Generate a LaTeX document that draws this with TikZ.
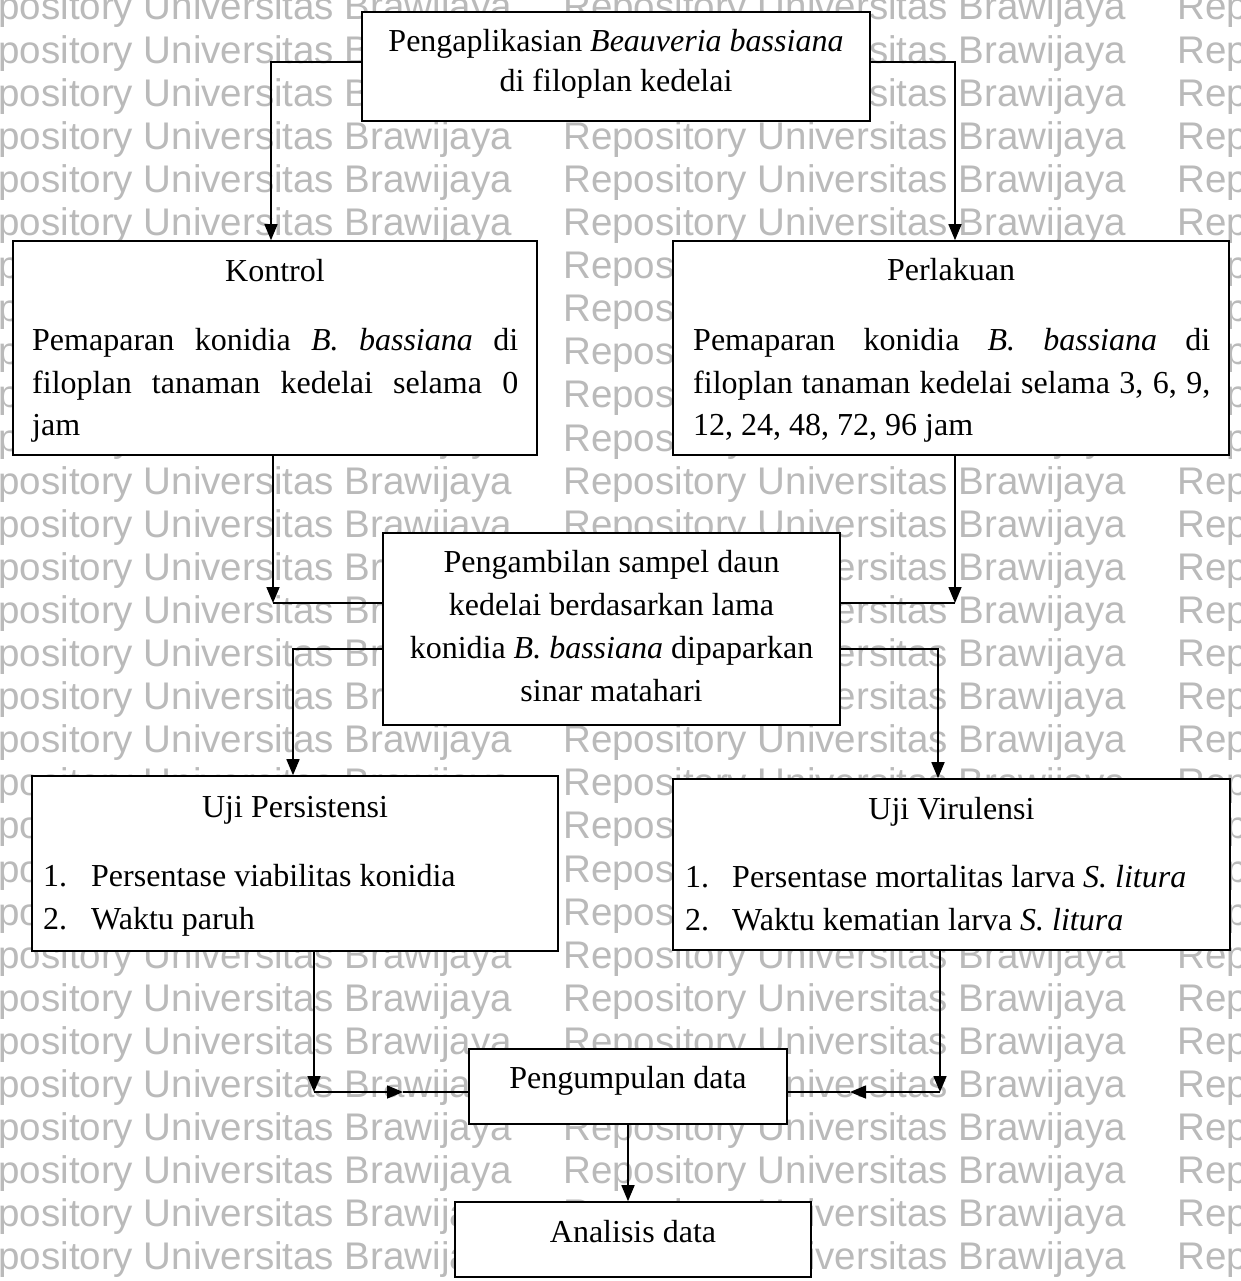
\documentclass[tikz,border=0pt]{standalone}
\usepackage{fontspec}
\setmainfont{Liberation Serif}
\newfontfamily\wmfont{Liberation Sans}
\usetikzlibrary{arrows.meta}
\begin{document}
\begin{tikzpicture}[x=1pt,y=-1pt,
  box/.style={draw, line width=1.6pt, fill=white, inner sep=0pt},
  txt/.style={inner sep=0pt, font=\fontsize{32}{40}\selectfont, anchor=base},
  ltxt/.style={txt, anchor=base west},
  wm/.style={anchor=base west, inner sep=0pt, text=black!27, font=\wmfont\fontsize{38.5}{40}\selectfont},
  conn/.style={line width=1.6pt},
  arr/.style={conn, -{Triangle[length=16pt,width=13pt]}}
]
\clip (0,0) rectangle (1240,1281);
\useasboundingbox (0,0) rectangle (1240,1281);
\fill[white] (0,0) rectangle (1240,1281);

% watermark
\foreach \k in {0,...,29}{
  \foreach \x [count=\j] in {-51,563,1177}{
    \node[wm] (wm-\k-\j) at ({\x},{20+43.1*\k}) {Repository Universitas Brawijaya};
  }
}

% boxes
\node[box, minimum width=508pt, minimum height=109pt] (top) at (616,66.5) {};
\node[box, minimum width=524pt, minimum height=214pt] (kontrol) at (275,348) {};
\node[box, minimum width=556pt, minimum height=214pt] (perlakuan) at (951,348) {};
\node[box, minimum width=457pt, minimum height=192pt] (mid) at (611.5,629) {};
\node[box, minimum width=526pt, minimum height=175pt] (persist) at (295,863.5) {};
\node[box, minimum width=557pt, minimum height=171pt] (virul) at (951.5,864.5) {};
\node[box, minimum width=318pt, minimum height=75pt] (kumpul) at (628,1086.5) {};
\node[box, minimum width=356pt, minimum height=75pt] (analisis) at (633,1239.5) {};

% texts
\node[txt] (t-top1) at (616,52) {Pengaplikasian \textit{Beauveria bassiana}};
\node[txt] (t-top2) at (616,92) {di filoplan kedelai};

\node[txt] (t-k0) at (275,281) {Kontrol};
\node[ltxt] (t-k1) at (32,350) {\makebox[486pt][s]{Pemaparan konidia \textit{B. bassiana} di}};
\node[ltxt] (t-k2) at (32,393) {\makebox[486pt][s]{filoplan tanaman kedelai selama 0}};
\node[ltxt] (t-k3) at (32,435) {jam};

\node[txt] (t-p0) at (951,280) {Perlakuan};
\node[ltxt] (t-p1) at (693,350) {\makebox[517pt][s]{Pemaparan konidia \textit{B. bassiana} di}};
\node[ltxt] (t-p2) at (693,393) {\makebox[517pt][s]{filoplan tanaman kedelai selama 3, 6, 9,}};
\node[ltxt] (t-p3) at (693,435) {12, 24, 48, 72, 96 jam};

\node[txt] (t-m1) at (611.5,572) {Pengambilan sampel daun};
\node[txt] (t-m2) at (611.5,615) {kedelai berdasarkan lama};
\node[txt] (t-m3) at (611.5,658) {konidia \textit{B. bassiana} dipaparkan};
\node[txt] (t-m4) at (611.5,701) {sinar matahari};

\node[txt] (t-u0) at (295,817) {Uji Persistensi};
\node[ltxt] (t-u1n) at (43,886) {1.};
\node[ltxt] (t-u1) at (91,886) {Persentase viabilitas konidia};
\node[ltxt] (t-u2n) at (43,929) {2.};
\node[ltxt] (t-u2) at (91,929) {Waktu paruh};

\node[txt] (t-v0) at (951.5,819) {Uji Virulensi};
\node[ltxt] (t-v1n) at (685,887) {1.};
\node[ltxt] (t-v1) at (732,887) {Persentase mortalitas larva \textit{S. litura}};
\node[ltxt] (t-v2n) at (685,930) {2.};
\node[ltxt] (t-v2) at (732,930) {Waktu kematian larva \textit{S. litura}};

\node[txt] (t-kumpul) at (628,1088) {Pengumpulan data};
\node[txt] (t-analisis) at (633,1242) {Analisis data};

% connectors
\coordinate (k1) at (271,62);
\coordinate (k2) at (955,62);
\draw[arr] (top.west |- k1) -| (kontrol.north -| k1);
\draw[arr] (top.east |- k2) -| (perlakuan.north -| k2);

\coordinate (j1) at (273,603);
\coordinate (j2) at (955,603);
\draw[arr] (kontrol.south -| j1) -- (j1);
\draw[conn] (j1) -- (j1 -| mid.west);
\draw[arr] (perlakuan.south -| j2) -- (j2);
\draw[conn] (j2) -- (j2 -| mid.east);

\coordinate (s1) at (293,649);
\coordinate (s2) at (938,649);
\draw[arr] (mid.west |- s1) -| (persist.north -| s1);
\draw[arr] (mid.east |- s2) -| (virul.north -| s2);

\coordinate (m1) at (314,1092);
\coordinate (m1a) at (403,1092);
\coordinate (m2) at (940,1092);
\coordinate (m2a) at (850,1092);
\draw[arr] (persist.south -| m1) -- (m1);
\draw[arr] (m1) -- (m1a);
\draw[conn] (m1a) -- (m1a -| kumpul.west);
\draw[arr] (virul.south -| m2) -- (m2);
\draw[arr] (m2) -- (m2a);
\draw[conn] (m2a) -- (m2a -| kumpul.east);

\draw[arr] (kumpul.south) -- (kumpul.south |- analisis.north);
\end{tikzpicture}
\end{document}
